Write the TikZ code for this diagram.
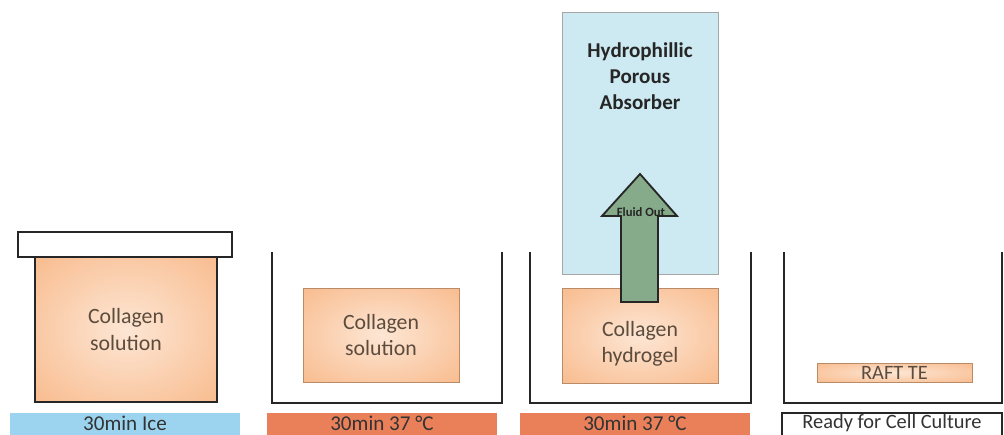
\documentclass[tikz,border=0pt]{standalone}
\usepackage{fontspec}
\setmainfont{Carlito}
\usetikzlibrary{positioning}
\definecolor{gelorange}{RGB}{248,185,138}
\definecolor{gellight}{RGB}{253,230,212}
\definecolor{icebl}{RGB}{156,212,240}
\definecolor{warmbar}{RGB}{234,128,90}
\definecolor{absorbbl}{RGB}{205,234,242}
\definecolor{fluidgr}{RGB}{134,171,138}
\definecolor{geltext}{RGB}{92,76,62}
\pgfdeclareradialshading{gelshade}{\pgfpoint{0bp}{0bp}}{color(0bp)=(gellight); color(38bp)=(gelorange); color(100bp)=(gelorange)}
\newcommand\px{0.025cm}
\tikzset{
  gel/.style={shading=gelshade, draw=gelorange!75!black, line width=0.6pt, text=geltext,
    font=\fontsize{15.5}{18.5}\selectfont, align=center, inner sep=0pt},
  bar/.style={inner sep=0pt, text=black!80, font=\fontsize{15}{17}\selectfont,
    minimum width=230*\px, minimum height=26*\px},
  well/.style={line width=2pt, black!85},
}
\begin{document}
\begin{tikzpicture}[x=\px, y=-\px]
\useasboundingbox (0,0) rectangle (1004,434);
\clip (0,0) rectangle (1004,434);

% ice step
\node[gel, draw=black!85, line width=2pt, minimum width=182*\px, minimum height=145*\px] (gel1) at (126,329.5) {Collagen\\solution};
\node[draw=black!85, line width=2pt, fill=white, minimum width=214*\px, minimum height=25*\px] (lid1) at (125,244.5) {};
\node[bar, fill=icebl] (bar1) at (125,426) {};
\node[bar, text=black!80] (lab1) at (125,423) {30min Ice};

% warm step
\draw[well] (272,252) |- (502,403) -- (502,252);
\node[gel, minimum width=156*\px, minimum height=94*\px] (gel2) at (381,335) {Collagen\\solution};
\node[bar, fill=warmbar] (bar2) at (382,426) {};
\node[bar] (lab2) at (382,423) {30min 37 °C};

% absorber step
\draw[well] (530,252) |- (751,403) -- (751,252);
\node[fill=absorbbl, draw=black!35, line width=0.6pt, minimum width=156*\px, minimum height=262*\px] (absorber) at (640,143) {};
\node[font=\fontsize{15}{18.5}\selectfont\bfseries, text=black!85, align=center] (abstext) at (640,76) {Hydrophillic\\Porous\\Absorber};
\node[gel, minimum width=156*\px, minimum height=95*\px] (gel3) at (640,335.5) {\\[4pt]Collagen\\hydrogel};
\draw[fill=fluidgr, draw=black!85, line width=1.3pt, line join=miter]
  (621,302) -- (621,216) -- (602,216) -- (640,174) -- (677,216) -- (658,216) -- (658,302) -- cycle;
\node[font=\fontsize{9}{10}\selectfont\bfseries, text=black!85] (fluid) at (641,212) {Fluid Out};
\node[bar, fill=warmbar] (bar3) at (635,426) {};
\node[bar] (lab3) at (635,423) {30min 37 °C};

% ready step
\draw[well] (784,252) |- (1002,403) -- (1002,252);
\node[gel, font=\fontsize{14.5}{16}\selectfont, minimum width=155*\px, minimum height=19*\px] (gel4) at (894.5,372.5) {RAFT TE};
\node[bar, fill=white, draw=black!85, line width=0.8pt, minimum width=220*\px] (bar4) at (892,426) {};
\node[bar, font=\fontsize{14.5}{17}\selectfont] (lab4) at (892,423) {Ready for Cell Culture};
\end{tikzpicture}
\end{document}
